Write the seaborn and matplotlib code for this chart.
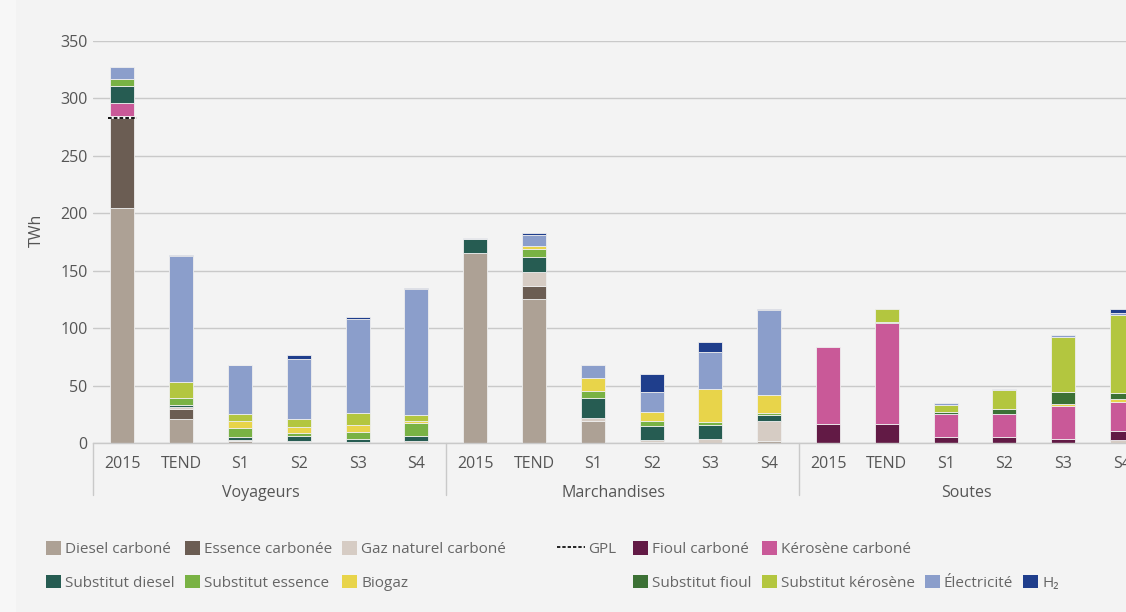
import matplotlib
matplotlib.use("Agg")
import matplotlib.pyplot as plt
import matplotlib.transforms as mtransforms
from matplotlib.patches import Patch, Rectangle
from matplotlib.lines import Line2D
import numpy as np
import pandas as pd
import seaborn as sns

# Groupes et scénarios de l'axe x
groupes = ["Voyageurs", "Marchandises", "Soutes"]
scenarios = ["2015", "TEND", "S1", "S2", "S3", "S4"]

# Consommation en TWh, une valeur par barre (Voyageurs x6, Marchandises x6, Soutes x6)
diesel = [205, 21, 2, 1, 0.5, 0, 165, 125, 19, 1, 0, 1.5, 0, 0, 0, 0, 0, 0]
essence = [78, 8.5, 0, 0, 0, 0, 0, 11.3, 0, 0, 0, 0, 0, 0, 0, 0, 0, 0]
gaz_naturel = [0, 2, 1, 1, 0, 2, 0, 12.5, 2.9, 2, 3.8, 18, 0, 0, 0, 0, 0, 2.3]
gpl = [1.5, 0, 0, 0, 0, 0, 0, 0, 0, 0, 0, 0, 0, 0, 0, 0, 0, 0]
fioul = [0, 0, 0, 0, 0, 0, 0, 0, 0, 0, 0, 0, 16.3, 16.5, 5, 5, 3.2, 7.8]
kerosene = [11.7, 0, 0, 0, 0, 0, 0, 0, 0, 0, 0, 0, 67.3, 88, 20, 20, 28.7, 25.3]
subst_diesel = [15, 2, 2.5, 4, 3, 4, 13, 13, 17.4, 12, 11.6, 4.6, 0, 0, 0, 0, 0, 0]
subst_essence = [6, 5.5, 7.5, 3, 6.4, 11.7, 0, 6.7, 6.4, 4.4, 2.6, 1.7, 0, 0, 0, 0, 0, 0]
biogaz = [0, 0, 6.5, 4.5, 5.5, 1.5, 0, 2.9, 11.3, 7.8, 29, 15.6, 0, 0, 0, 0, 2.3, 2.9]
subst_fioul = [0, 0, 0, 0, 0, 0, 0, 0, 0, 0, 0, 0, 0, 1, 1.7, 4.6, 9.8, 4.9]
subst_kerosene = [0, 14, 6, 7, 10.4, 5, 0, 0, 0, 0, 0, 0, 0, 11.3, 6.7, 16.8, 47.9, 68.2]
electricite = [10, 110, 42, 52.5, 82, 109.5, 0.5, 10, 11, 17.4, 32.4, 74.5, 0, 0, 1.2, 0.9, 2.3, 2]
h2 = [0, 1, 0.5, 3.7, 1.7, 1.2, 0, 1.4, 0, 15.4, 8.7, 0.5, 0, 0, 0, 0, 0, 3.2]

# Ordre d'empilement, du bas vers le haut
energies = ["Diesel carboné", "Essence carbonée", "Gaz naturel carboné", "GPL",
            "Fioul carboné", "Kérosène carboné", "Substitut diesel", "Substitut essence",
            "Biogaz", "Substitut fioul", "Substitut kérosène", "Électricité", "H₂"]
series = [diesel, essence, gaz_naturel, gpl, fioul, kerosene, subst_diesel,
          subst_essence, biogaz, subst_fioul, subst_kerosene, electricite, h2]
couleurs = ["#ada195", "#6b5d53", "#d6ccc4", "#ffffff", "#621a45", "#c95998",
            "#265c52", "#79b244", "#e8d44a", "#3c7135", "#b3c63f", "#8b9ecb", "#1f3e8c"]

fond = "#f3f3f3"
sns.set_style("white", {"axes.facecolor": fond, "figure.facecolor": fond})
plt.rcParams["font.family"] = ["Open Sans", "DejaVu Sans"]

positions = np.arange(len(groupes) * len(scenarios))
lignes = []
for nom, vals in zip(energies, series):
    for p, v in zip(positions, vals):
        lignes.append({"pos": p, "energie": nom, "twh": v})
df = pd.DataFrame(lignes)

fig = plt.figure(figsize=(11.26, 6.12), dpi=100)
# bande plus claire sur le bord gauche
fig.patches.append(Rectangle((0, 0), 16 / 1126, 1, transform=fig.transFigure,
                             facecolor="#f7f7f7", edgecolor="none", zorder=-1))
ax = fig.add_axes([93 / 1126, 1 - 443 / 612, 1 - 93 / 1126, 402 / 612])

palette = dict(zip(energies, couleurs))
sns.histplot(data=df, x="pos", hue="energie", weights="twh", multiple="stack",
             discrete=True, shrink=0.41, hue_order=energies[::-1], palette=palette,
             alpha=1, linewidth=0.6, edgecolor="#eeeeee", legend=False, ax=ax)

for p in ax.patches:
    if p.get_height() <= 0:
        p.set_visible(False)

# GPL : trait pointillé noir
bas_gpl = np.array(diesel) + np.array(essence) + np.array(gaz_naturel)
for p, b, g in zip(positions, bas_gpl, gpl):
    if g > 0:
        ax.hlines(b, p - 0.24, p + 0.24, colors="black", linestyles=(0, (2, 1.2)), lw=1.3, zorder=5)

ax.set_xlim(-0.5, positions[-1] + 4 / 58.82)
ax.set_ylim(0, 350)
ax.set_yticks(range(0, 351, 50))
ax.set_xticks(positions, scenarios * len(groupes))
ax.tick_params(axis="both", length=0, labelsize=11.5, labelcolor="#555555")
ax.tick_params(axis="x", pad=9)
ax.tick_params(axis="y", pad=4)
ax.yaxis.grid(True, color="#c9c9c9", lw=1)
ax.set_axisbelow(True)
ax.set_xlabel("")
ax.set_ylabel("TWh", fontsize=11.5, color="#555555")
ax.yaxis.set_label_coords(-0.047, 0.53)
for s in ["top", "right", "left"]:
    ax.spines[s].set_visible(False)
ax.spines["bottom"].set_color("#c9c9c9")
ax.spines["bottom"].set_linewidth(1)

# Groupes sous l'axe
trans = mtransforms.blended_transform_factory(ax.transData, ax.transAxes)
n = len(scenarios)
for i, g in enumerate(groupes):
    debut = i * n - 0.5
    ax.plot([debut, debut], [0, -0.13], transform=trans, color="#c9c9c9", lw=1, clip_on=False)
    ax.text(debut + n / 2 - 0.15, -0.124, g, transform=trans, ha="center", va="center",
            fontsize=11.5, color="#555555")

# Légendes
def carre(c):
    return Patch(facecolor=c, edgecolor="none")

leg_kw = dict(frameon=False, fontsize=11, handlelength=1.0, handleheight=1.0,
              handletextpad=0.25, columnspacing=0.65, labelspacing=1.15,
              borderpad=0, borderaxespad=0, labelcolor="#666666")
idx = {e: k for k, e in enumerate(energies)}
haut = 1 - 541 / 612

gauche = ["Diesel carboné", "Substitut diesel", "Essence carbonée", "Substitut essence",
          "Gaz naturel carboné", "Biogaz"]
fig.legend([carre(couleurs[idx[e]]) for e in gauche], gauche, ncol=3,
           loc="upper left", bbox_to_anchor=(46 / 1126, haut), **leg_kw)

fig.legend([Line2D([], [], color="black", lw=1.2, linestyle=(0, (2, 1.2)))], ["GPL"],
           loc="upper left", bbox_to_anchor=(557 / 1126, haut),
           **{**leg_kw, "handlelength": 1.8})

vide = Patch(facecolor="none", edgecolor="none")
droite_h = [carre(couleurs[idx["Fioul carboné"]]), carre(couleurs[idx["Substitut fioul"]]),
            carre(couleurs[idx["Kérosène carboné"]]), carre(couleurs[idx["Substitut kérosène"]]),
            vide, carre(couleurs[idx["Électricité"]]), vide, carre(couleurs[idx["H₂"]])]
droite_l = ["Fioul carboné", "Substitut fioul", "Kérosène carboné", "Substitut kérosène",
            "", "Électricité", "", "H₂"]
fig.legend(droite_h, droite_l, ncol=4, loc="upper left",
           bbox_to_anchor=(633 / 1126, haut), **leg_kw)

fig.savefig("out.png", dpi=100, facecolor=fond)
